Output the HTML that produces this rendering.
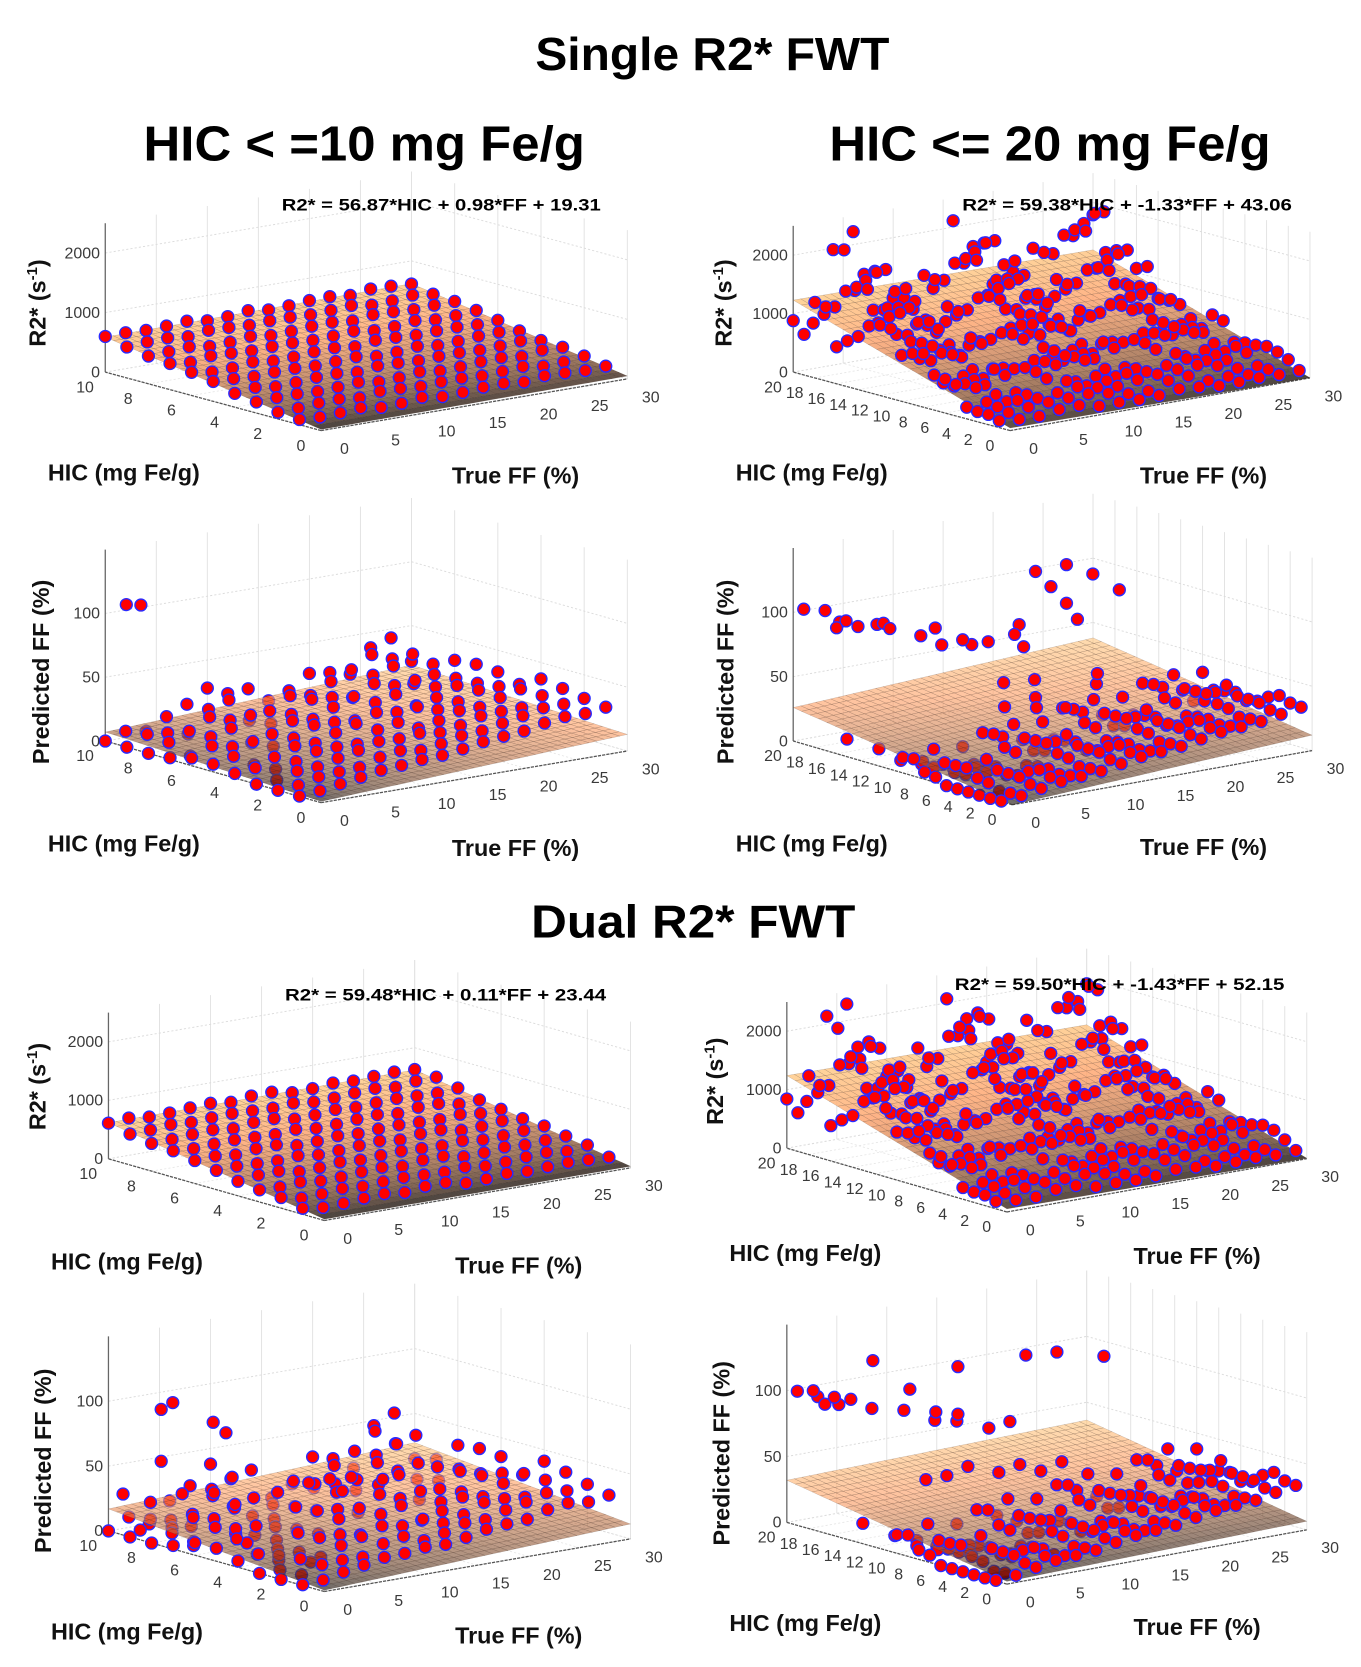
<!DOCTYPE html>
<html><head><meta charset="utf-8"><title>Single and Dual R2* FWT</title>
<style>
html,body{margin:0;padding:0;background:#fff;}
svg{display:block;}
text{font-family:"Liberation Sans",sans-serif;}
</style></head>
<body>
<svg id="fig" xmlns="http://www.w3.org/2000/svg" width="1361" height="1667" viewBox="0 0 1280 1568" preserveAspectRatio="none">
<rect x="0" y="0" width="1280" height="1568" fill="#fff"/>
<text x="670" y="66" text-anchor="middle" font-size="44" font-weight="bold" textLength="333" lengthAdjust="spacingAndGlyphs">Single R2* FWT</text>
<text x="135" y="151" font-size="46" font-weight="bold" textLength="415" lengthAdjust="spacingAndGlyphs">HIC &lt; =10 mg Fe/g</text>
<text x="780" y="151" font-size="46" font-weight="bold" textLength="415" lengthAdjust="spacingAndGlyphs">HIC &lt;= 20 mg Fe/g</text>
<text x="652" y="882" text-anchor="middle" font-size="44" font-weight="bold" textLength="305" lengthAdjust="spacingAndGlyphs">Dual R2* FWT</text>
<text class="eq" x="265" y="198" font-size="16" font-weight="bold" textLength="300" lengthAdjust="spacingAndGlyphs">R2* = 56.87*HIC + 0.98*FF + 19.31</text>
<text class="eq" x="905" y="198" font-size="16" font-weight="bold" textLength="310" lengthAdjust="spacingAndGlyphs">R2* = 59.38*HIC + -1.33*FF + 43.06</text>
<text class="eq" x="268" y="941" font-size="16" font-weight="bold" textLength="302" lengthAdjust="spacingAndGlyphs">R2* = 59.48*HIC + 0.11*FF + 23.44</text>
<text class="eq" x="898" y="931" font-size="16" font-weight="bold" textLength="310" lengthAdjust="spacingAndGlyphs">R2* = 59.50*HIC + -1.43*FF + 52.15</text>
</svg>
<script>
// ---------- data ----------
const fitSingle10 = [56.87, 0.98, 19.31];
const fitSingle20 = [59.38, -1.33, 43.06];
const fitDual10 = [59.48, 0.11, 23.44];
const fitDual20 = [59.50, -1.43, 52.15];
const predPlaneSingle10 = [0.6, 0.4, 1];
const predPlaneSingle20 = [1.3, 0.4, 0];
const predPlaneDual10 = [1.6, 0.35, 1];
const predPlaneDual20 = [1.5, 0.15, 2];

const hicLevels10 = [1,2,3,4,5,6,7,8,9,10];
const hicLevels20 = [1,2,3,4,5,6,7,8,9,10,11,12,13,14,15,16,17,18,19,20];
const ffLevelsDense = [0,2,4,6,8,10,12,14,16,18,20,22,24,26,28,30];
const ffLevelsSparse = [0,3,6,9,12,15,18,21,24,27,30];

const residA = [12,-18,25,-8,30,-22,5,18,-12,28,-5,15,-25,10,22,-15];
const residB = [350,-200,600,-350,900,150,-450,400,-100,750,-300,250,1000,-150,500,-400,200,650,-250,50,800,-500,300];
const residE = [20,-10,35,-25,8,40,-15,22,-30,12,5,-20,30,-8,15,-12];
const residF = [300,-250,700,-400,850,100,-500,450,-150,900,-350,200,1050,-100,550,-450,250,600,-300,0,750,-550,350];
const residC = [3,-4,8,-2,12,-6,5,15,-3,10,-8,6,18,-5,2,9];
const residD = [4,-6,10,-3,15,-8,6,18,-4,12,-10,7];
const residG = [6,-8,14,-5,20,-12,9,25,-6,16,-15,10,28,-9,4,12];
const residH = [5,-7,12,-4,18,-10,8,22,-5,14,-12,9];

const outliersC = [[9.5,1,108],[9.2,1.8,108]];
const outliersD = [[19.5,0.5,103],[18,1,105],[17,2,98],[16.5,0.5,96],[15,1,100],[14.5,3,101],[16,4,95],[18.5,3,92],[13,2,102],[12,4,96],[12.5,6,98],[11,5,90],[10,6,95],[9.5,8,92],[11,8,86],[8,9,100],[8.5,10,105],[9,11,85],[7,10,150],[6.5,11,138],[6,12,155],[4.5,13,150],[3,14,140],[6,12,125],[5,12,115],
 [16,1,10],[14,2,6],[12,2,2],[11,3,0],[9,2,4],[8,3,1],[7,3,2],[6,4,5],[8,8,45],[7,10,52],[6,9,48],[9,9,60],[8,11,62],[7,13,40],[5,14,70],[6,15,58]];
const outliersG = [[8.5,2,98],[8.2,2.5,104],[8.5,2,58],[6,1.8,100],[5.5,2,94],[9.8,1,28],[9,2,24],[8,3,34],[7,4,38],[6.5,5,30],[5,6,45],[4.5,8,52],[4,9,56],[7.5,3,18],[6,4,15],[5,3,10],[8,2,5],[7,2,3],[9,1,4],[4,4,4],[3,5,2],[2,6,60],[3,9,62],[2.5,11,60]];
const outliersH = [[19.5,0.5,100],[18.5,1,102],[17.5,2,98],[17,0.5,96],[16,2,100],[15,3,94],[18,3,90],[19,2,95],[14,2,134],[12,3.5,115],[9,5,137],[9,5,101],[6,8.5,148],[5,10.5,150],[3,13,148],[11,5,98],[10,6,92],[13,4,96],[12,6,88],[8,7,90],[7,8,96],
 [14,1,12],[12,2,6],[10,2,3],[9,3,1],[8,3,4],[7,4,2],[6,5,6],[5,6,3],[11,4,48],[10,5,52],[9,6,60],[8,8,55],[7,9,62],[6,10,58],[5,11,66]];

const zTicksR2 = [0,1000,2000];
const zTicksFF = [0,50,100];
const hTicks10 = [0,2,4,6,8,10];
const hTicks20 = [0,2,4,6,8,10,12,14,16,18,20];
const fTicks = [0,5,10,15,20,25,30];

// ---------- layout ----------
const panels = [
 {id:'single-10-r2', O:[302,405], H:[-20.3,-5.5], F:[9.6,-1.62], Z:0.056, hmax:10, zmax:2500, zt:zTicksR2, ht:hTicks10, kind:'r2', fit:fitSingle10, hic:hicLevels10, ff:ffLevelsDense, res:residA, resScale:0, out:[], zl:[35,285], hl:[45,452], fl:[425,455]},
 {id:'single-20-r2', O:[950,405], H:[-10.2,-2.75], F:[9.4,-1.65], Z:0.055, hmax:20, zmax:2500, zt:zTicksR2, ht:hTicks20, kind:'r2', fit:fitSingle20, hic:hicLevels20, ff:ffLevelsDense, res:residB, resScale:1, out:[], zl:[680,285], hl:[692,452], fl:[1072,455]},
 {id:'single-10-ff', O:[302,755], H:[-20.3,-5.8], F:[9.6,-1.62], Z:1.2, hmax:10, zmax:150, zt:zTicksFF, ht:hTicks10, kind:'ff', fit:predPlaneSingle10, hic:hicLevels10, ff:ffLevelsDense, res:residC, resScale:1, out:outliersC, zl:[38,632], hl:[45,801], fl:[425,805]},
 {id:'single-20-ff', O:[952,757], H:[-10.3,-3], F:[9.4,-1.7], Z:1.21, hmax:20, zmax:150, zt:zTicksFF, ht:hTicks20, kind:'ff', fit:predPlaneSingle20, hic:hicLevels10, ff:ffLevelsDense, res:residD, resScale:1, out:outliersD, zl:[682,632], hl:[692,801], fl:[1072,804]},
 {id:'dual-10-r2', O:[305,1148], H:[-20.3,-5.8], F:[9.6,-1.65], Z:0.055, hmax:10, zmax:2500, zt:zTicksR2, ht:hTicks10, kind:'r2', fit:fitDual10, hic:hicLevels10, ff:ffLevelsDense, res:residE, resScale:0, out:[], zl:[35,1022], hl:[48,1194], fl:[428,1198]},
 {id:'dual-20-r2', O:[947,1140], H:[-10.35,-3], F:[9.4,-1.67], Z:0.055, hmax:20, zmax:2500, zt:zTicksR2, ht:hTicks20, kind:'r2', fit:fitDual20, hic:hicLevels20, ff:ffLevelsDense, res:residF, resScale:1, out:[], zl:[672,1017], hl:[686,1186], fl:[1066,1189]},
 {id:'dual-10-ff', O:[305,1497], H:[-20.3,-5.7], F:[9.6,-1.65], Z:1.22, hmax:10, zmax:150, zt:zTicksFF, ht:hTicks10, kind:'ff', fit:predPlaneDual10, hic:hicLevels10, ff:ffLevelsDense, res:residG, resScale:1, out:outliersG, zl:[40,1374], hl:[48,1542], fl:[428,1546]},
 {id:'dual-20-ff', O:[947,1490], H:[-10.35,-2.9], F:[9.4,-1.7], Z:1.24, hmax:20, zmax:150, zt:zTicksFF, ht:hTicks20, kind:'ff', fit:predPlaneDual20, hic:hicLevels10, ff:ffLevelsDense, res:residH, resScale:1, out:outliersH, zl:[678,1367], hl:[686,1534], fl:[1066,1538]}
];
const FMAX = 30;
const NS = 'http://www.w3.org/2000/svg';
const svg = document.getElementById('fig');
function mk(tag, attrs, parent){
  const e = document.createElementNS(NS, tag);
  for (const k in attrs) e.setAttribute(k, attrs[k]);
  parent.appendChild(e);
  return e;
}
function copper(t){
  t = Math.pow(Math.max(0, Math.min(1, t)), 0.6);
  const r = Math.min(255, Math.round(1.25*t*255));
  const g = Math.round(0.7812*t*255);
  const b = Math.round(0.4975*t*255);
  return 'rgb(' + r + ',' + g + ',' + b + ')';
}

panels.forEach(P => {
  const g = mk('g', {}, svg);
  
  
  const pr = (h, f, z) => [P.O[0] + P.H[0]*h + P.F[0]*f, P.O[1] + P.H[1]*h + P.F[1]*f - P.Z*z];
  const line = (a, b, st, w, dash, name) => {
    const l = mk('line', {x1:a[0].toFixed(1), y1:a[1].toFixed(1), x2:b[0].toFixed(1), y2:b[1].toFixed(1), stroke:st, 'stroke-width':w}, g);
    if (dash) l.setAttribute('stroke-dasharray', dash);
    
    
  };
  fTicks.forEach(f => {
    line(pr(P.hmax, f, 0), pr(P.hmax, f, P.zmax), '#e2e2e2', 0.9, null, 'grid-line');
    line(pr(0, f, 0), pr(P.hmax, f, 0), '#e6e6e6', 0.8, '2,2', 'grid-line');
  });
  P.ht.forEach(h => {
    line(pr(h, FMAX, 0), pr(h, FMAX, P.zmax), '#e2e2e2', 0.9, null, 'grid-line');
    line(pr(h, 0, 0), pr(h, FMAX, 0), '#e6e6e6', 0.8, '2,2', 'grid-line');
  });
  P.zt.forEach(z => {
    line(pr(P.hmax, 0, z), pr(P.hmax, FMAX, z), '#dcdcdc', 0.9, '2,2', 'grid-line');
    line(pr(P.hmax, FMAX, z), pr(0, FMAX, z), '#dcdcdc', 0.9, '2,2', 'grid-line');
  });
  line(pr(P.hmax, 0, 0), pr(P.hmax, 0, P.zmax), '#666', 1.2, null, 'z-axis');
  line(pr(0, 0, 0), pr(P.hmax, 0, 0), '#555', 1.2, '3,1', 'hic-axis');
  line(pr(0, 0, 0), pr(0, FMAX, 0), '#555', 1.2, '3,1', 'ff-axis');

  const plane = (h, f) => Math.max(0, P.fit[0]*h + P.fit[1]*f + P.fit[2]);
  const pts = [];
  P.hic.forEach((h, i) => {
    P.ff.forEach((f, j) => {
      const r = P.res[(i*5 + j*3) % P.res.length];
      let z;
      if (P.kind === 'r2') z = plane(h, f) + (P.resScale ? r*h/P.hic[P.hic.length-1] : r);
      else z = Math.max(0, f + r*h/P.hic[P.hic.length-1]);
      pts.push([h, f, z]);
    });
  });
  P.out.forEach(o => pts.push(o));
  pts.sort((a, b) => (b[0]/P.hmax + b[1]/FMAX) - (a[0]/P.hmax + a[1]/FMAX));
  const drawPts = (arr) => arr.forEach(p => {
    const s = pr(p[0], p[1], p[2]);
    const c = mk('circle', {cx:s[0].toFixed(1), cy:s[1].toFixed(1), r:5.6, fill:'#ff0000', stroke:'#2a2aff', 'stroke-width':1.3}, g);
    
    
  });
  let below = [], above = pts;
  if (P.kind === 'ff') {
    below = pts.filter(p => p[2] < plane(p[0], p[1]) - 3);
    above = pts.filter(p => p[2] >= plane(p[0], p[1]) - 3);
  }
  drawPts(below);
  const corners = [plane(0,0), plane(P.hmax,0), plane(0,FMAX), plane(P.hmax,FMAX)];
  const zmin = Math.min(...corners), zmx = Math.max(...corners);
  const nh = 26, nf = 40, hs = P.hmax/nh, fs = FMAX/nf;
  const quads = [];
  for (let i = 0; i < nh; i++) for (let j = 0; j < nf; j++) quads.push([i*hs, j*fs]);
  quads.sort((a, b) => (b[0]/P.hmax + b[1]/FMAX) - (a[0]/P.hmax + a[1]/FMAX));
  const sg = mk('g', {'fill-opacity': P.kind === 'ff' ? 0.62 : 0.78}, g);
  
  
  quads.forEach(q => {
    const [h, f] = q;
    const c = [[h,f],[h+hs,f],[h+hs,f+fs],[h,f+fs]].map(p => pr(p[0], p[1], plane(p[0], p[1])));
    const zc = plane(h+hs/2, f+fs/2);
    const col = copper((zc - zmin)/(zmx - zmin || 1));
    const poly = mk('polygon', {points:c.map(p => p[0].toFixed(1)+','+p[1].toFixed(1)).join(' '), fill:col, stroke:'rgba(60,40,30,0.3)', 'stroke-width':0.4}, sg);
    
    
  });
  drawPts(above);
  const txt = (x, y, s, anchor, size, name, weight) => {
    const t = mk('text', {x:x.toFixed(1), y:y.toFixed(1), 'text-anchor':anchor, 'font-size':size, fill: weight ? '#111' : '#3a3a3a'}, g);
    if (weight) t.setAttribute('font-weight', 'bold');
    t.textContent = s;
    
    
    return t;
  };
  P.zt.forEach(z => { const s = pr(P.hmax, 0, z); txt(s[0]-5, s[1]+5, String(z), 'end', 15, 'z-tick-label'); });
  P.ht.forEach(h => { const s = pr(h, 0, 0); txt(s[0]-19, s[1]+19, String(h), 'middle', 15, 'hic-tick-label'); });
  fTicks.forEach(f => { const s = pr(0, f, 0); txt(s[0]+22, s[1]+22, String(f), 'middle', 15, 'ff-tick-label'); });
  txt(P.hl[0], P.hl[1], 'HIC (mg Fe/g)', 'start', 22, 'hic-axis-title', true);
  txt(P.fl[0], P.fl[1], 'True FF (%)', 'start', 22, 'ff-axis-title', true);
  const zt = mk('text', {x:0, y:0, 'text-anchor':'middle', 'font-size':22, 'font-weight':'bold', fill:'#111', transform:'translate(' + (P.zl[0]+8) + ',' + P.zl[1] + ') rotate(-90)'}, g);
  
  
  if (P.kind === 'r2') {
    zt.appendChild(document.createTextNode('R2* (s'));
    const sup = mk('tspan', {dy:-8, 'font-size':14}, zt);
    sup.textContent = '-1';
    const rest = mk('tspan', {dy:8}, zt);
    rest.textContent = ')';
  } else {
    zt.textContent = 'Predicted FF (%)';
  }
});
// keep equations on top
Array.from(document.querySelectorAll('.eq')).forEach(e => svg.appendChild(e));
</script>
</body></html>
